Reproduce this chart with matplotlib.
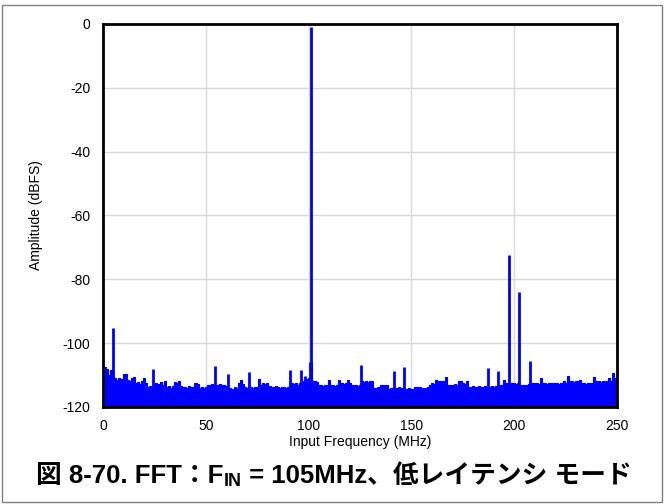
import matplotlib
matplotlib.use("Agg")
import matplotlib.pyplot as plt
from matplotlib.patches import Rectangle

plt.rcParams["font.family"] = ["Liberation Sans", "Noto Sans CJK JP", "DejaVu Sans"]

# ------------- DATA -------------
# noise floor envelope, one value per MHz (0..250 MHz), dBFS
noise_floor = [
    -108.0, -107.5, -108.0, -110.0, -108.5, -110.0, -111.0, -111.5, -111.0, -111.3,
    -109.8, -109.7, -111.5, -111.8, -111.0, -110.5, -112.5, -112.3, -112.8, -112.0,
    -111.0, -112.5, -113.8, -113.5, -113.8, -113.0, -112.5, -112.8, -112.3, -113.0,
    -111.8, -113.8, -113.5, -114.0, -113.5, -112.3, -112.5, -112.0, -113.5, -113.8,
    -113.8, -114.0, -113.5, -113.8, -113.6, -112.6, -112.8, -114.0, -113.8, -114.2,
    -113.8, -113.0, -113.2, -112.8, -113.0, -113.5, -113.0, -112.8, -113.2, -113.0,
    -113.5, -114.0, -114.0, -114.3, -113.8, -114.0, -112.6, -111.6, -112.8, -113.8,
    -114.0, -113.5, -113.8, -114.0, -113.6, -113.8, -111.3, -113.0, -112.6, -112.8,
    -112.6, -113.5, -113.8, -113.8, -113.5, -113.8, -114.0, -113.6, -113.8, -114.0,
    -113.8, -113.5, -112.6, -112.8, -112.6, -113.0, -112.6, -112.6, -112.0, -111.3,
    -111.0, -106.0, -112.0, -112.0, -112.3, -113.2, -113.0, -113.5, -113.2, -113.0,
    -111.6, -113.2, -113.2, -113.4, -113.2, -111.6, -112.6, -112.8, -112.6, -111.4,
    -112.6, -113.2, -113.2, -113.2, -113.4, -113.2, -112.0, -112.3, -112.0, -112.2,
    -112.0, -112.0, -114.0, -114.0, -113.8, -113.0, -113.0, -113.2, -113.0, -114.4,
    -114.0, -114.0, -114.0, -114.0, -113.8, -114.0, -114.2, -114.4, -114.4, -114.2,
    -114.4, -114.5, -113.8, -113.6, -113.8, -114.0, -114.0, -114.0, -113.8, -113.0,
    -112.6, -112.8, -111.6, -111.8, -112.0, -112.0, -112.0, -110.6, -113.0, -113.0,
    -113.0, -112.8, -113.0, -111.8, -111.8, -112.6, -112.8, -112.0, -113.8, -113.8,
    -113.5, -113.8, -113.8, -113.5, -113.8, -113.8, -113.5, -113.8, -113.8, -113.5,
    -113.8, -113.5, -113.8, -113.2, -113.2, -111.6, -112.6, -112.6, -112.8, -112.6,
    -112.6, -112.8, -112.6, -113.2, -113.0, -113.2, -113.0, -112.8, -112.6, -112.6,
    -112.6, -112.4, -112.8, -111.0, -112.6, -112.6, -112.8, -112.4, -112.6, -112.6,
    -112.6, -112.6, -112.8, -112.6, -112.0, -112.6, -110.3, -112.0, -112.0, -112.2,
    -112.0, -112.0, -111.6, -112.6, -112.6, -112.8, -112.6, -112.6, -112.6, -110.6,
    -112.0, -112.0, -112.2, -112.0, -112.0, -112.0, -111.0, -112.0, -109.5, -111.0,
    -112.0,
]
noise_freq = list(range(len(noise_floor)))  # MHz

# fundamental, harmonics and other spurs
spur_freq = [4.9, 24.2, 54.5, 61.0, 71.2, 91.2, 96.1, 98.2, 100.6, 101.0,
             125.4, 141.6, 146.6, 187.4, 192.3, 197.6, 202.3, 207.5]
spur_level = [-95.2, -108.0, -107.2, -109.7, -109.0, -108.5, -108.5, -110.2, -106.0, -1.0,
              -106.9, -108.7, -107.6, -107.7, -108.8, -72.5, -84.0, -105.6]

x_ticks = [0, 50, 100, 150, 200, 250]
y_ticks = [0, -20, -40, -60, -80, -100, -120]

# caption pieces: (text, is_subscript)
caption_parts = [("図 8-70. FFT：F", False), ("IN", True),
                 (" = 105MHz、低レイテンシ モード", False)]
# ----------------------------------

BLUE = "#0000ff"

fig = plt.figure(figsize=(6.64, 5.04), dpi=100)
ax = fig.add_axes([0.1551, 0.1925, 0.7741, 0.7599])

ax.fill_between(noise_freq, noise_floor, -130, step="mid", color=BLUE, linewidth=0.8,
                edgecolor=BLUE, zorder=3)
ax.vlines(spur_freq, -130, spur_level, color=BLUE, linewidth=2.0, zorder=3)

ax.set_xlim(0, 250)
ax.set_ylim(-120, 0)
ax.set_xticks(x_ticks)
ax.set_yticks(y_ticks)
ax.set_yticklabels([str(v) for v in y_ticks])
ax.grid(True, color="#d9d9d9", linewidth=1.0, zorder=0)
ax.set_axisbelow(True)
ax.tick_params(length=0, labelsize=10, pad=9)
for s in ax.spines.values():
    s.set_linewidth(2.0)
    s.set_color("black")
    s.set_zorder(5)

ax.set_xlabel("Input Frequency (MHz)", fontsize=10, labelpad=1)
ax.set_ylabel("Amplitude (dBFS)", fontsize=10, labelpad=14)

# caption drawn piece by piece so the CJK fallback works with a subscript
renderer = fig.canvas.get_renderer()
W, H = 664.0, 504.0
cap_y = 476.0
texts = []
for txt, sub in caption_parts:
    t = fig.text(0, 1 - (cap_y + (6 if sub else 0)) / H, txt,
                 fontsize=13 if sub else 18.5, fontweight="bold",
                 ha="left", va="center")
    texts.append(t)
widths = [t.get_window_extent(renderer).width for t in texts]
x = 334.0 - sum(widths) / 2
for t, w in zip(texts, widths):
    t.set_x(x / W)
    x += w

# thin gray frame around the whole figure
fig.patches.append(Rectangle((2 / 664, 2 / 504), 660 / 664, 497 / 504,
                             transform=fig.transFigure, fill=False,
                             edgecolor="#808080", linewidth=1.0))

fig.savefig("out.png", dpi=100)
